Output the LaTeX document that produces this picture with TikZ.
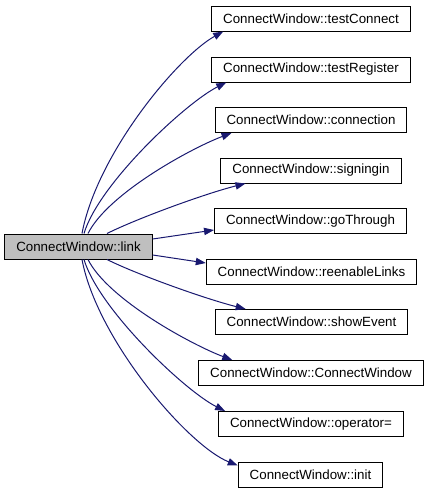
\documentclass[tikz,border=0pt]{standalone}
\usepackage{fontspec}
\setmainfont{Liberation Sans}
\usetikzlibrary{arrows.meta,calc}
\definecolor{edgeblue}{HTML}{191970}

\begin{document}
\begin{tikzpicture}[
    x=0.75pt, y=-0.75pt,
    fnbox/.style={draw, line width=0.75pt, fill=white, font=\fontsize{10}{12}\selectfont,
        inner xsep=8.6pt, inner ysep=2pt, minimum height=18.75pt},
    calledge/.style={-{Triangle[length=7.5pt,width=5.5pt,fill=edgeblue]}, draw=edgeblue,
        line width=0.75pt},
]
\useasboundingbox (0,0) rectangle (428,493);

% caller
\node[fnbox, fill=black!25] (link) at (78.5,246.5) {ConnectWindow::link};

% callees
\node[fnbox] (tconn) at (311,18.5) {ConnectWindow::testConnect};
\node[fnbox] (treg) at (311,69.5) {ConnectWindow::testRegister};
\node[fnbox] (conn) at (311,120) {ConnectWindow::connection};
\node[fnbox] (sign) at (311,170.5) {ConnectWindow::signingin};
\node[fnbox] (gothr) at (310.5,221) {ConnectWindow::goThrough};
\node[fnbox] (reen) at (311.5,272) {ConnectWindow::reenableLinks};
\node[fnbox] (show) at (311.5,322) {ConnectWindow::showEvent};
\node[fnbox] (ctor) at (311,373) {ConnectWindow::ConnectWindow};
\node[fnbox] (oper) at (311,424) {ConnectWindow::operator=};
\node[fnbox] (init) at (310.5,474.5) {ConnectWindow::init};

% calls
\draw[calledge] ($(link.north)+(3.5,0)$) .. controls +(15,-80) and +(-45,25) .. ($(tconn.south west)+(12,0)$);
\draw[calledge] ($(link.north)+(5.5,0)$) .. controls +(15,-50) and +(-40,20) .. ($(treg.south west)+(15,0)$);
\draw[calledge] ($(link.north)+(9.5,0)$) .. controls +(20,-40) and +(-40,15) .. ($(conn.south west)+(17,0)$);
\draw[calledge] ($(link.north)+(28.5,0)$) .. controls +(30,-15) and +(-40,10) .. ($(sign.south west)+(25,0)$);
\draw[calledge] ($(link.east)+(0,-7.5)$) -- ($(gothr.south west)+(0,-4)$);
\draw[calledge] ($(link.east)+(0,8.5)$) -- ($(reen.north west)+(0,4)$);
\draw[calledge] ($(link.south)+(28.5,0)$) .. controls +(30,15) and +(-40,-10) .. ($(show.north west)+(31,0)$);
\draw[calledge] ($(link.south)+(9.5,0)$) .. controls +(20,40) and +(-40,-15) .. ($(ctor.north west)+(34,0)$);
\draw[calledge] ($(link.south)+(5.5,0)$) .. controls +(15,50) and +(-40,-20) .. ($(oper.north west)+(7,0)$);
\draw[calledge] ($(link.south)+(3.5,0)$) .. controls +(15,80) and +(-50,-20) .. ($(init.north west)+(0,4)$);
\end{tikzpicture}
\end{document}
